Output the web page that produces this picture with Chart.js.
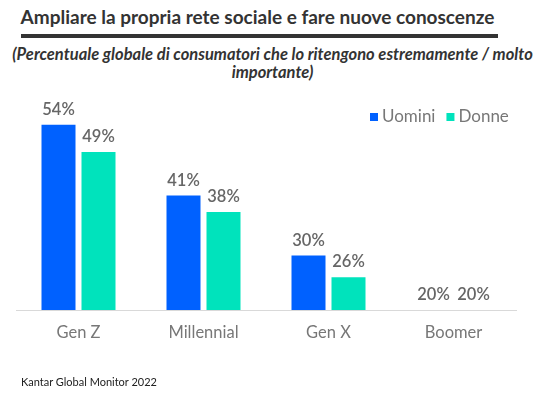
<!DOCTYPE html>
<html lang="it">
<head>
<meta charset="UTF-8" />
<title>Ampliare la propria rete sociale</title>
<script src="https://cdn.jsdelivr.net/npm/chart.js"></script>
<style>
  html, body { margin: 0; padding: 0; background: #fff; }
  body { width: 545px; height: 396px; position: relative; overflow: hidden; font-family: Lato, "Open Sans", sans-serif; }
  #title { position: absolute; left: 0; width: 515px; top: 5px; text-align: center; font-weight: 700; font-size: 19px; color: #333; white-space: nowrap; }
  #rule { position: absolute; left: 21px; width: 477px; top: 34px; height: 4px; background: #333; }
  #subtitle { position: absolute; left: 0; width: 545px; top: 45px; text-align: center; font-style: italic; font-weight: 700; font-size: 16.5px; line-height: 18px; color: #333; white-space: nowrap; }
  #source { position: absolute; left: 21px; top: 375px; font-size: 11px; color: #222; }
  #wrap { position: absolute; left: 0; top: 0; width: 545px; height: 396px; }
</style>
</head>
<body>
  <div id="title">Ampliare la propria rete sociale e fare nuove conoscenze</div>
  <div id="rule"></div>
  <div id="subtitle">(Percentuale globale di consumatori che lo ritengono estremamente / molto<br>importante)</div>
  <div id="wrap"><canvas id="chart"></canvas></div>
  <div id="source">Kantar Global Monitor 2022</div>

  <script>
    const categories = ['Gen Z', 'Millennial', 'Gen X', 'Boomer'];
    const uomini = [54, 41, 30, 20];
    const donne = [49, 38, 26, 20];

    const BLUE = '#0061ff';
    const TEAL = '#00e3bc';

    // value labels above bars
    const barLabels = {
      id: 'barLabels',
      afterDatasetsDraw(chart) {
        const ctx = chart.ctx;
        ctx.save();
        ctx.font = '600 16.5px Lato, sans-serif';
        ctx.fillStyle = '#666';
        ctx.textAlign = 'center';
        ctx.textBaseline = 'bottom';
        chart.data.datasets.forEach((ds, i) => {
          chart.getDatasetMeta(i).data.forEach((bar, j) => {
            ctx.fillText(ds.data[j] + '%', bar.x, bar.y - 7);
          });
        });
        ctx.restore();
      }
    };

    // legend drawn inside the plot, top right
    const innerLegend = {
      id: 'innerLegend',
      afterDraw(chart) {
        const ctx = chart.ctx;
        ctx.save();
        ctx.font = '17px Lato, sans-serif';
        ctx.textBaseline = 'middle';
        let x = 370;
        const y = 117;
        chart.data.datasets.forEach(ds => {
          ctx.fillStyle = ds.backgroundColor;
          ctx.fillRect(x, y - 4, 8, 8);
          ctx.fillStyle = '#777';
          ctx.fillText(ds.label, x + 12, y);
          x += 12 + ctx.measureText(ds.label).width + 11;
        });
        ctx.restore();
      }
    };

    new Chart(document.getElementById('chart'), {
      type: 'bar',
      data: {
        labels: categories,
        datasets: [
          { label: 'Uomini', data: uomini, backgroundColor: BLUE },
          { label: 'Donne', data: donne, backgroundColor: TEAL }
        ]
      },
      options: {
        responsive: true,
        maintainAspectRatio: false,
        animation: false,
        layout: { padding: { left: 16, right: 29, top: 92, bottom: 46 } },
        datasets: { bar: { categoryPercentage: 0.64, barPercentage: 0.85 } },
        plugins: { legend: { display: false }, tooltip: { enabled: false } },
        scales: {
          x: {
            grid: { display: false },
            border: { display: true, color: '#d9d9d9', width: 1 },
            ticks: { color: '#777', font: { family: 'Lato', size: 16.5 }, padding: 5 },
            afterFit: s => { s.height = 40; }
          },
          y: { display: false, min: 20, max: 60 }
        }
      },
      plugins: [barLabels, innerLegend]
    });
  </script>
</body>
</html>
